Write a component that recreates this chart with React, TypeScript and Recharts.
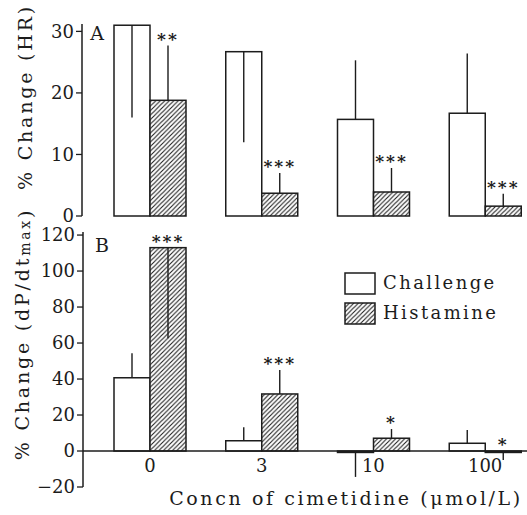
import React from 'react';
import { BarChart, Bar, XAxis, YAxis, ErrorBar, ReferenceLine } from 'recharts';

const FONT = '"DejaVu Serif", "Liberation Serif", serif';
const INK = '#1c1c1c';

// concentrations of cimetidine (µmol/L)
const categories = ['0', '3', '10', '100'];

// panel A: % change of heart rate
const hrChallenge = [31, 26.7, 15.7, 16.7];
const hrChallengeErr = [[15, 0], [14.7, 0], [0, 9.6], [0, 9.7]];
const hrHistamine = [18.8, 3.7, 3.9, 1.6];
const hrHistamineErr = [[0, 8.9], [0, 3.3], [0, 3.9], [0, 2.0]];
const hrSig = ['**', '***', '***', '***'];
const hrTicks = [0, 10, 20, 30];

// panel B: % change of dP/dt max
const dpChallenge = [40.7, 5.7, -0.8, 4.3];
const dpChallengeErr = [[0, 13.6], [0, 7.5], [13.6, 0], [0, 7.4]];
const dpHistamine = [113, 31.7, 7.1, -0.8];
const dpHistamineErr = [[50.4, 0], [0, 13.3], [0, 5.1], [4.2, 0]];
const dpSig = ['***', '***', '*', '*'];
const dpTicks = [-20, 0, 20, 40, 60, 80, 100, 120];

const seriesNames = ['Challenge', 'Histamine'];

const build = (ch: number[], chErr: number[][], hi: number[], hiErr: number[][], sig: string[]) =>
  categories.map((cat, i) => ({
    cat,
    challenge: ch[i],
    challengeErr: chErr[i],
    histamine: hi[i],
    histamineErr: hiErr[i],
    sig: sig[i],
  }));

const hrData = build(hrChallenge, hrChallengeErr, hrHistamine, hrHistamineErr, hrSig);
const dpData = build(dpChallenge, dpChallengeErr, dpHistamine, dpHistamineErr, dpSig);

const A = { top: 24, height: 192, min: 0, max: 31.2 };
const B = { top: 32, height: 255, min: -20, max: 121.7 };

const Hatch = ({ id }: { id: string }) => (
  <pattern id={id} patternUnits="userSpaceOnUse" width="4.5" height="4.5">
    <rect width="4.5" height="4.5" fill="#fff" />
    <path d="M-1,1 l2,-2 M0,4.5 l4.5,-4.5 M3.5,5.5 l2,-2" stroke={INK} strokeWidth="1.1" />
  </pattern>
);

const makeShape = (fill: string, geo?: typeof A) => (props: any) => {
  const { x, y, width, height, payload } = props;
  const top = Math.min(y, y + height);
  const h = Math.abs(height);
  let star = null;
  if (geo && payload.sig) {
    const v = payload.histamine;
    const up = payload.histamineErr[1];
    const peak = Math.max(v, v + up, 0);
    const py = geo.top + ((geo.max - peak) / (geo.max - geo.min)) * geo.height;
    star = (
      <text x={x + width / 2} y={py - 1} textAnchor="middle" fontFamily={FONT} fontSize={17}
        fontWeight="bold" letterSpacing={2} fill={INK}>{payload.sig}</text>
    );
  }
  return (
    <g>
      <rect x={x} y={top} width={width} height={Math.max(h, 0.5)} fill={fill} stroke={INK} strokeWidth={1.5} />
      {star}
    </g>
  );
};

const tickStyle = { fill: INK, fontSize: 18, fontFamily: FONT };
const minus = (v: number) => (v < 0 ? `\u2212${Math.abs(v)}` : `${v}`);

const yLabel = (text: React.ReactNode, cx: number, cy: number) => () => (
  <text x={cx} y={cy} transform={`rotate(-90 ${cx} ${cy})`} textAnchor="middle" dominantBaseline="central"
    fontFamily={FONT} fontSize={19} letterSpacing={2.8} fill={INK}>{text}</text>
);

const LegendBox = () => (
  <svg width={190} height={60} style={{ position: 'absolute', left: 340, top: 268 }}>
    <defs><Hatch id="hatchL" /></defs>
    {seriesNames.map((name, i) => (
      <g key={name} transform={`translate(5, ${5 + i * 30})`}>
        <rect x={0} y={0} width={30} height={21} fill={i === 0 ? '#fff' : 'url(#hatchL)'} stroke={INK} strokeWidth={1.5} />
        <text x={38} y={16} fontFamily={FONT} fontSize={18} letterSpacing={2.4} fill={INK}>{name}</text>
      </g>
    ))}
  </svg>
);

export default function App() {
  return (
    <div style={{ position: 'absolute', left: 0, top: 0, width: 527, height: 515, overflow: 'hidden', background: '#fff' }}>
      <div style={{ position: 'absolute', left: 0, top: 0 }}>
        <BarChart width={541} height={232} data={hrData} barSize={36} barGap={0}
          margin={{ top: A.top, right: 0, left: 0, bottom: 16 }}>
          <defs><Hatch id="hatchA" /></defs>
          <XAxis dataKey="cat" height={0} tick={false} tickLine={false} padding={{ left: 12, right: 0 }}
            axisLine={{ stroke: INK, strokeWidth: 1.5 }} />
          <YAxis width={82} domain={[A.min, A.max]} ticks={hrTicks} interval={0} tick={tickStyle}
            tickSize={6} tickMargin={2} axisLine={{ stroke: INK, strokeWidth: 1.5 }} tickLine={{ stroke: INK, strokeWidth: 1.3 }}
            label={yLabel('% Change (HR)', 25, 97)} />
          <Bar dataKey="challenge" name={seriesNames[0]} shape={makeShape('#fff')} isAnimationActive={false}>
            <ErrorBar dataKey="challengeErr" width={0} stroke={INK} strokeWidth={1.4} direction="y" />
          </Bar>
          <Bar dataKey="histamine" name={seriesNames[1]} shape={makeShape('url(#hatchA)', A)} isAnimationActive={false}>
            <ErrorBar dataKey="histamineErr" width={0} stroke={INK} strokeWidth={1.4} direction="y" />
          </Bar>
          <text x={97} y={40} textAnchor="middle" fontFamily={FONT} fontSize={19} fill={INK}>A</text>
        </BarChart>
      </div>
      <div style={{ position: 'absolute', left: 0, top: 200 }}>
        <BarChart width={541} height={315} data={dpData} barSize={36} barGap={0}
          margin={{ top: B.top, right: 0, left: 0, bottom: 0 }}>
          <defs><Hatch id="hatchB" /></defs>
          <XAxis dataKey="cat" height={28} axisLine={false} tickLine={false} tickSize={0} tickMargin={0}
            padding={{ left: 11, right: 0 }}
            tick={(p: any) => (
              <text x={p.x} y={p.y - 22} textAnchor="middle" dominantBaseline="central" fontFamily={FONT}
                fontSize={18} fill={INK}>{p.payload.value}</text>
            )}
            label={() => (
              <text x={346} y={305} textAnchor="middle" fontFamily={FONT} fontSize={19} letterSpacing={2.6} fill={INK}>
                Concn of cimetidine (μmol/L)
              </text>
            )} />
          <YAxis width={83} domain={[B.min, B.max]} ticks={dpTicks} interval={0} tick={tickStyle}
            tickFormatter={minus} tickSize={6} tickMargin={2}
            axisLine={{ stroke: INK, strokeWidth: 1.5 }} tickLine={{ stroke: INK, strokeWidth: 1.3 }}
            label={yLabel(<>% Change (dP/dt<tspan fontSize={14} dy={3}>max</tspan>)</>, 22, 134)} />
          <ReferenceLine y={0} stroke={INK} strokeWidth={1.5} />
          <Bar dataKey="challenge" name={seriesNames[0]} shape={makeShape('#fff')} isAnimationActive={false}>
            <ErrorBar dataKey="challengeErr" width={0} stroke={INK} strokeWidth={1.4} direction="y" />
          </Bar>
          <Bar dataKey="histamine" name={seriesNames[1]} shape={makeShape('url(#hatchB)', B)} isAnimationActive={false}>
            <ErrorBar dataKey="histamineErr" width={0} stroke={INK} strokeWidth={1.4} direction="y" />
          </Bar>
          <text x={102} y={52} textAnchor="middle" fontFamily={FONT} fontSize={19} fill={INK}>B</text>
        </BarChart>
      </div>
      <LegendBox />
    </div>
  );
}
